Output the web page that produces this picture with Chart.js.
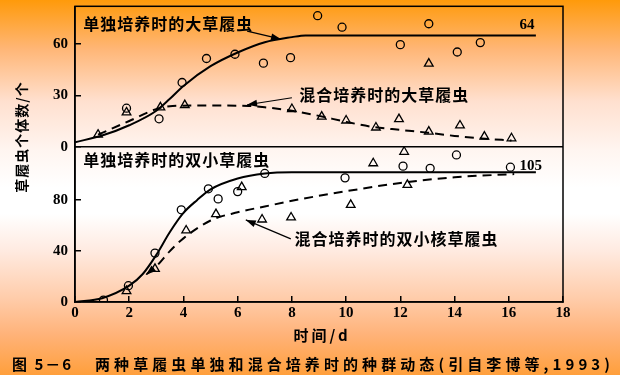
<!DOCTYPE html>
<html lang="zh">
<head>
<meta charset="UTF-8">
<title>两种草履虫单独和混合培养时的种群动态</title>
<script src="https://cdn.jsdelivr.net/npm/chart.js"></script>
<style>
  body { margin: 0; }
  #wrap { width: 620px; height: 375px; }
</style>
</head>
<body>
<div id="wrap"><canvas id="popChart" width="620" height="375"></canvas></div>
<script>
// tick labels
const dayTicks = [0, 2, 4, 6, 8, 10, 12, 14, 16, 18];
const topTicks = [0, 30, 60];
const bottomTicks = [0, 40, 80];

// 大草履虫 - top panel
const bigAloneDays = [1.9, 3.1, 3.95, 4.85, 5.9, 6.95, 7.95, 8.95, 9.85, 12.0, 13.05, 14.1, 14.95];
const bigAloneVals = [22.5, 16.3, 37.5, 51.5, 54, 48.8, 52, 76.5, 69.8, 59.6, 71.8, 55.3, 60.8];
const bigMixDays = [0.85, 1.9, 3.15, 4.05, 8.0, 9.1, 10.0, 11.1, 11.95, 13.05, 13.05, 14.2, 15.1, 16.1];
const bigMixVals = [7, 20, 23, 24.3, 22, 17.6, 15.3, 11.2, 16.1, 48.5, 8.8, 12.4, 5.9, 4.9];
const bigAloneCurveDays = [0, 1, 2, 3, 3.5, 4, 5, 6, 7, 8, 8.5, 17];
const bigAloneCurveVals = [2.6, 6.5, 12.5, 21, 28, 35.5, 47, 55, 61, 64, 65, 65];
const bigMixCurveDays = [0.85, 2, 3.1, 3.6, 4.5, 5.5, 6.4, 7, 8, 9, 10, 11, 12, 13, 14, 15, 16.1];
const bigMixCurveVals = [7, 15, 22.5, 23.8, 24, 24, 23.8, 23, 21, 18, 14.5, 11.5, 9.8, 8.2, 6.3, 4.8, 3.6];

// 双小核草履虫 - bottom panel
const smallAloneDays = [1.05, 1.97, 2.95, 3.92, 4.92, 5.28, 6.0, 7.0, 9.96, 12.1, 13.1, 14.07, 16.06];
const smallAloneVals = [1.5, 12.8, 38.4, 72.4, 88.9, 81, 86.7, 101, 97.5, 106.7, 105, 115.5, 105.9];
const smallMixDays = [1.9, 2.95, 4.1, 5.2, 6.15, 6.9, 7.97, 10.17, 11.0, 12.14, 12.26];
const smallMixVals = [8.6, 26, 56.2, 69, 90.2, 64.8, 66.4, 76.3, 109, 118, 92];
const smallAloneCurveDays = [0, 1, 2, 2.5, 3, 3.5, 4, 4.5, 5, 6, 7, 8, 17];
const smallAloneCurveVals = [0, 3, 12.8, 22, 37, 55, 70, 80, 88.5, 97, 101, 102, 102];
const smallMixCurveDays = [2.65, 3, 3.5, 4, 5, 6, 7, 8, 10, 12, 14, 16.2];
const smallMixCurveVals = [22, 28, 40, 50, 64, 70.5, 75, 79.5, 87, 93.5, 98, 100.5];

// annotations
const notes = [
  { text: '单独培养时的大草履虫', x: 0.3, y: 71.5, axis: 'yT' },
  { text: '64', x: 16.4, y: 71, axis: 'yT', num: true },
  { text: '混合培养时的大草履虫', x: 8.27, y: 30.4, axis: 'yT' },
  { text: '单独培养时的双小草履虫', x: 0.3, y: 111.8, axis: 'yB' },
  { text: '105', x: 16.4, y: 107, axis: 'yB', num: true },
  { text: '混合培养时的双小核草履虫', x: 8.1, y: 49.6, axis: 'yB' }
];
const arrows = [
  { from: [6.35, 67.5], to: [7.6, 62.8], axis: 'yT' },
  { from: [8.0, 28.6], to: [6.35, 24.5], axis: 'yT' },
  { from: [7.96, 49.6], to: [6.3, 64.5], axis: 'yB' },
  { from: [2.9, 26.5], to: [2.62, 21.5], axis: 'yB' }
];

function pts(xs, ys) { return xs.map((x, i) => ({ x: x, y: ys[i] })); }

const tickFont = { family: '"Liberation Serif", serif', size: 15, weight: 'bold' };
const cjk = '"Noto Sans CJK SC", sans-serif';

const bgPlugin = {
  id: 'paperBg',
  beforeDraw(chart) {
    const { ctx, width, height } = chart;
    const g = ctx.createLinearGradient(0, 0, 0, height);
    g.addColorStop(0, '#ff9a0a');
    g.addColorStop(0.13, '#ffb676');
    g.addColorStop(0.27, '#ffe0cf');
    g.addColorStop(0.4, '#fff5f0');
    g.addColorStop(0.5, '#ffffff');
    g.addColorStop(0.57, '#ffffff');
    g.addColorStop(0.67, '#ffeae0');
    g.addColorStop(0.8, '#ffcba8');
    g.addColorStop(0.89, '#ffb37a');
    g.addColorStop(1, '#ff9f3c');
    ctx.save();
    ctx.fillStyle = g;
    ctx.fillRect(0, 0, width, height);
    ctx.restore();
  }
};

function arrowHead(ctx, x0, y0, x1, y1) {
  const a = Math.atan2(y1 - y0, x1 - x0);
  ctx.beginPath();
  ctx.moveTo(x1, y1);
  ctx.lineTo(x1 - 10 * Math.cos(a) + 3.5 * Math.sin(a), y1 - 10 * Math.sin(a) - 3.5 * Math.cos(a));
  ctx.lineTo(x1 - 10 * Math.cos(a) - 3.5 * Math.sin(a), y1 - 10 * Math.sin(a) + 3.5 * Math.cos(a));
  ctx.closePath();
  ctx.fill();
}

const notePlugin = {
  id: 'notes',
  afterDraw(chart) {
    const { ctx, chartArea: a, scales } = chart;
    const xs = scales.x;
    ctx.save();
    ctx.strokeStyle = '#000';
    ctx.fillStyle = '#000';
    ctx.lineWidth = 1.5;
    ctx.strokeRect(a.left, a.top, a.right - a.left, a.bottom - a.top);
    const ySep = scales.yT.getPixelForValue(0);
    ctx.beginPath();
    ctx.moveTo(a.left, ySep);
    ctx.lineTo(a.right, ySep);
    ctx.stroke();

    ctx.textBaseline = 'middle';
    ctx.textAlign = 'left';
    notes.forEach(n => {
      ctx.font = n.num ? 'bold 15px "Liberation Serif", serif' : 'bold 16px ' + cjk;
      ctx.letterSpacing = n.num ? '0px' : '1px';
      ctx.fillText(n.text, xs.getPixelForValue(n.x), scales[n.axis].getPixelForValue(n.y));
    });
    ctx.letterSpacing = '0px';

    ctx.lineWidth = 1.2;
    arrows.forEach(ar => {
      const ys = scales[ar.axis];
      const x0 = xs.getPixelForValue(ar.from[0]), y0 = ys.getPixelForValue(ar.from[1]);
      const x1 = xs.getPixelForValue(ar.to[0]), y1 = ys.getPixelForValue(ar.to[1]);
      ctx.beginPath();
      ctx.moveTo(x0, y0);
      ctx.lineTo(x1, y1);
      ctx.stroke();
      arrowHead(ctx, x0, y0, x1, y1);
    });

    // axis titles and caption
    ctx.font = 'bold 14px ' + cjk;
    ctx.textAlign = 'center';
    ctx.save();
    ctx.translate(22, 137);
    ctx.rotate(-Math.PI / 2);
    ctx.letterSpacing = '1px';
    ctx.fillText('草履虫个体数/个', 0, 0);
    ctx.restore();

    ctx.font = 'bold 15px ' + cjk;
    ctx.letterSpacing = '3px';
    ctx.fillText('时间/d', xs.getPixelForValue(9) + 3, 335);

    ctx.textAlign = 'left';
    ctx.font = 'bold 15px ' + cjk;
    ctx.letterSpacing = '2px';
    ctx.fillText('图 5－6', 12, 364);
    const cap = '两种草履虫单独和混合培养时的种群动态(引自李博等,1993)';
    ctx.letterSpacing = '0px';
    const w = ctx.measureText(cap).width;
    ctx.letterSpacing = Math.max(0, (519 - w) / cap.length) + 'px';
    ctx.fillText(cap, 95, 364);
    ctx.restore();
  }
};

function yAxis(weight, max, ticks) {
  return {
    type: 'linear', position: 'left', stack: 'panels', stackWeight: weight,
    min: 0, max: max,
    afterBuildTicks: s => { s.ticks = ticks.map(v => ({ value: v })); },
    afterFit: s => { s.width = 75; s.paddingTop = 0; s.paddingBottom = 0; },
    ticks: { color: '#000', font: tickFont, padding: 13 },
    grid: { drawOnChartArea: false, tickLength: -6, color: '#000', lineWidth: 1.5 },
    border: { color: '#000', width: 1.5 }
  };
}

const curve = (d, yID, dashed) => ({
  data: d, yAxisID: yID, showLine: true, pointRadius: 0, borderColor: '#000',
  borderWidth: 2, borderDash: dashed ? [9, 6] : [], cubicInterpolationMode: 'monotone'
});
const marks = (d, yID, style, r) => ({
  data: d, yAxisID: yID, showLine: false, pointStyle: style, pointRadius: r,
  pointBorderColor: '#000', pointBackgroundColor: 'rgba(0,0,0,0)', pointBorderWidth: 1.3
});

new Chart(document.getElementById('popChart').getContext('2d'), {
  type: 'scatter',
  data: {
    datasets: [
      curve(pts(bigAloneCurveDays, bigAloneCurveVals), 'yT', false),
      curve(pts(bigMixCurveDays, bigMixCurveVals), 'yT', true),
      marks(pts(bigAloneDays, bigAloneVals), 'yT', 'circle', 4),
      marks(pts(bigMixDays, bigMixVals), 'yT', 'triangle', 5),
      curve(pts(smallAloneCurveDays, smallAloneCurveVals), 'yB', false),
      curve(pts(smallMixCurveDays, smallMixCurveVals), 'yB', true),
      marks(pts(smallAloneDays, smallAloneVals), 'yB', 'circle', 4),
      marks(pts(smallMixDays, smallMixVals), 'yB', 'triangle', 5)
    ]
  },
  options: {
    responsive: false,
    animation: false,
    layout: { padding: { left: 0, right: 57, top: 6, bottom: 0 } },
    plugins: { legend: { display: false }, tooltip: { enabled: false } },
    scales: {
      x: {
        type: 'linear', position: 'bottom', min: 0, max: 18,
        afterBuildTicks: s => { s.ticks = dayTicks.map(v => ({ value: v })); },
        afterFit: s => { s.height = 73; },
        ticks: { color: '#000', font: tickFont, padding: 8, maxRotation: 0, autoSkip: false },
        grid: { drawOnChartArea: false, tickLength: -6, color: '#000', lineWidth: 1.5 },
        border: { color: '#000', width: 1.5 }
      },
      yB: yAxis(156, 122, bottomTicks),
      yT: yAxis(141, 82, topTicks)
    }
  },
  plugins: [bgPlugin, notePlugin]
});
</script>
</body>
</html>
